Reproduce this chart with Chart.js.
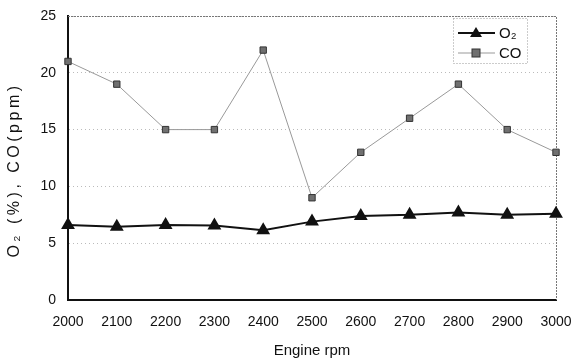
<!DOCTYPE html>
<html>
<head>
<meta charset="utf-8">
<script src="https://cdn.jsdelivr.net/npm/chart.js@4/dist/chart.umd.min.js"></script>
<style>
  html, body { margin: 0; padding: 0; background: #fff; }
  #wrap { width: 572px; height: 362px; }
</style>
</head>
<body>
<div id="wrap"><canvas id="chart"></canvas></div>
<script>
// Data
const rpmLabels = ['2000', '2100', '2200', '2300', '2400', '2500', '2600', '2700', '2800', '2900', '3000'];
const o2Values = [6.6, 6.45, 6.6, 6.55, 6.15, 6.9, 7.4, 7.5, 7.7, 7.5, 7.6];
const coValues = [21, 19, 15, 15, 22, 9, 13, 16, 19, 15, 13];
const yTicks = [0, 5, 10, 15, 20, 25];
const yTitle = 'O\u2082 (%), CO(ppm)';

const FONT = '"Liberation Sans", Arial, sans-serif';

// Legend box inside the plot, top right, with dotted border
const boxLegend = {
  id: 'boxLegend',
  afterDraw(chart) {
    const { ctx, chartArea } = chart;
    const x0 = chartArea.right - 103, y0 = chartArea.top + 2;
    const w = 74, h = 45;
    ctx.save();
    ctx.setLineDash([1, 2]);
    ctx.strokeStyle = '#999';
    ctx.lineWidth = 1;
    ctx.fillStyle = '#fff';
    ctx.fillRect(x0, y0, w, h);
    ctx.strokeRect(x0 + 0.5, y0 + 0.5, w, h);
    ctx.setLineDash([]);
    chart.data.datasets.forEach((ds, i) => {
      const cy = y0 + 15 + i * 20;
      const lx = x0 + 5;
      ctx.strokeStyle = ds.borderColor;
      ctx.lineWidth = ds.borderWidth;
      ctx.beginPath();
      ctx.moveTo(lx, cy);
      ctx.lineTo(lx + 37, cy);
      ctx.stroke();
      ctx.fillStyle = ds.pointBackgroundColor;
      ctx.strokeStyle = ds.pointBorderColor;
      ctx.lineWidth = 1;
      const mx = lx + 18;
      if (ds.pointStyle === 'triangle') {
        ctx.beginPath();
        ctx.moveTo(mx, cy - 6);
        ctx.lineTo(mx + 6, cy + 4);
        ctx.lineTo(mx - 6, cy + 4);
        ctx.closePath();
        ctx.fill();
      } else {
        ctx.fillRect(mx - 4, cy - 4, 8, 8);
        ctx.strokeRect(mx - 4, cy - 4, 8, 8);
      }
      ctx.fillStyle = '#111';
      ctx.font = '15px ' + FONT;
      ctx.textBaseline = 'middle';
      ctx.fillText(ds.label, lx + 41, cy + 1);
    });
    ctx.restore();
  }
};

// Dotted top/right frame of the plot area, and the spaced-out y title
const frame = {
  id: 'frame',
  beforeDatasetsDraw(chart) {
    const { ctx, chartArea: a } = chart;
    ctx.save();
    ctx.setLineDash([2, 1]);
    ctx.strokeStyle = '#777';
    ctx.lineWidth = 1;
    ctx.beginPath();
    ctx.moveTo(a.left, a.top + 0.5);
    ctx.lineTo(a.right + 0.5, a.top + 0.5);
    ctx.lineTo(a.right + 0.5, a.bottom);
    ctx.stroke();
    ctx.restore();

    ctx.save();
    ctx.translate(15, 170);
    ctx.rotate(-Math.PI / 2);
    ctx.font = '16px ' + FONT;
    ctx.letterSpacing = '3.5px';
    ctx.fillStyle = '#111';
    ctx.textAlign = 'center';
    ctx.textBaseline = 'middle';
    ctx.fillText(yTitle, 0, 0);
    ctx.restore();
  }
};

new Chart(document.getElementById('chart'), {
  type: 'line',
  data: {
    labels: rpmLabels,
    datasets: [
      {
        label: 'O\u2082',
        data: o2Values,
        borderColor: '#111',
        borderWidth: 2,
        pointStyle: 'triangle',
        pointRadius: 6,
        pointBackgroundColor: '#111',
        pointBorderColor: '#111',
        tension: 0
      },
      {
        label: 'CO',
        data: coValues,
        borderColor: '#999',
        borderWidth: 1,
        pointStyle: 'rect',
        pointRadius: 4.5,
        pointBackgroundColor: '#707070',
        pointBorderColor: '#333',
        pointBorderWidth: 1,
        tension: 0
      }
    ]
  },
  options: {
    responsive: true,
    maintainAspectRatio: false,
    animation: false,
    layout: { padding: { top: 16, right: 16, left: 0, bottom: 0 } },
    plugins: {
      legend: { display: false },
      tooltip: { enabled: false }
    },
    scales: {
      x: {
        offset: false,
        afterFit: s => { s.height = 62; s.paddingLeft = 0; s.paddingRight = 0; },
        grid: { display: false, drawTicks: false },
        border: { color: '#111', width: 2 },
        ticks: { color: '#111', font: { family: FONT, size: 14 }, padding: 14, maxRotation: 0 },
        title: { display: true, text: 'Engine rpm', color: '#111', font: { family: FONT, size: 15 }, padding: { top: 0, bottom: 2 } }
      },
      y: {
        min: 0,
        max: 25,
        afterFit: s => { s.width = 68; s.paddingTop = 0; s.paddingBottom = 0; },
        afterBuildTicks: axis => { axis.ticks = yTicks.map(v => ({ value: v })); },
        grid: { color: '#bbb', drawTicks: false, lineWidth: 1 },
        border: { color: '#111', width: 2, dash: [1, 3] },
        ticks: { color: '#111', font: { family: FONT, size: 14 }, padding: 12 },
        title: { display: false }
      }
    }
  },
  plugins: [frame, boxLegend]
});
</script>
</body>
</html>
